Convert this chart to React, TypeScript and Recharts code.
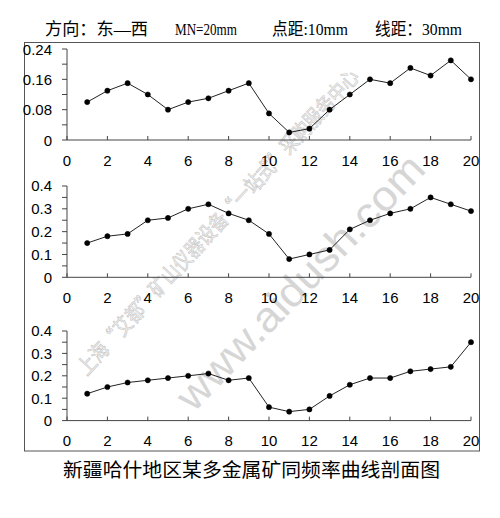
import React from 'react';
import { LineChart, Line, XAxis, YAxis } from 'recharts';

const positions = [1, 2, 3, 4, 5, 6, 7, 8, 9, 10, 11, 12, 13, 14, 15, 16, 17, 18, 19, 20];
const series1 = [0.10, 0.13, 0.15, 0.12, 0.08, 0.10, 0.11, 0.13, 0.15, 0.07, 0.02, 0.03, 0.08, 0.12, 0.16, 0.15, 0.19, 0.17, 0.21, 0.16];
const series2 = [0.15, 0.18, 0.19, 0.25, 0.26, 0.30, 0.32, 0.28, 0.25, 0.19, 0.08, 0.10, 0.12, 0.21, 0.25, 0.28, 0.30, 0.35, 0.32, 0.29];
const series3 = [0.12, 0.15, 0.17, 0.18, 0.19, 0.20, 0.21, 0.18, 0.19, 0.06, 0.04, 0.05, 0.11, 0.16, 0.19, 0.19, 0.22, 0.23, 0.24, 0.35];

const xTicks = [0, 2, 4, 6, 8, 10, 12, 14, 16, 18, 20];
const yTicks1 = [0, 0.04, 0.08, 0.12, 0.16, 0.2, 0.24];
const yLabels1 = ['0', '', '0.08', '', '0.16', '', '0.24'];
const yTicks2 = [0, 0.05, 0.1, 0.15, 0.2, 0.25, 0.3, 0.35, 0.4];
const yLabels2 = ['0', '', '0.1', '', '0.2', '', '0.3', '', '0.4'];

const titleParts = ['方向：东—西', 'MN=20mm', '点距:10mm', '线距：30mm'];
const caption = '新疆哈什地区某多金属矿同频率曲线剖面图';
const watermarkCn = '上海“艾都”矿山仪器设备“一站式”采购服务中心';
const watermarkUrl = 'www.aidush.com';

const AXIS = '#444';
const FONT = "'Liberation Sans', Arial, sans-serif";

const XTick = (props: any) => {
  const { x, y, payload } = props;
  return (
    <g>
      <line x1={x} y1={y} x2={x} y2={y - 4} stroke={AXIS} strokeWidth={1} />
      <text x={x} y={y + 20} textAnchor="middle" dominantBaseline="central" fontSize={15} fontFamily={FONT} fill="#000">
        {payload.value}
      </text>
    </g>
  );
};

const makeYTick = (ticks: number[], labels: string[]) => (props: any) => {
  const { x, y, payload } = props;
  const idx = ticks.findIndex((t) => Math.abs(t - payload.value) < 1e-9);
  const label = idx >= 0 ? labels[idx] : '';
  return (
    <text x={x} y={y} textAnchor="end" dominantBaseline="central" fontSize={15} fontFamily={FONT} fill="#000">
      {label}
    </text>
  );
};

type PanelProps = {
  values: number[];
  yTicks: number[];
  yLabels: string[];
  top: number;
  plotHeight: number;
};

const Panel = ({ values, yTicks, yLabels, top, plotHeight }: PanelProps) => {
  const data = positions.map((p, i) => ({ x: p, v: values[i] }));
  const marginTop = 10;
  const xAxisH = 30;
  const yMax = yTicks[yTicks.length - 1];
  return (
    <div style={{ position: 'absolute', left: 0, top: top - marginTop }}>
      <LineChart width={500} height={marginTop + plotHeight + xAxisH} data={data} margin={{ top: marginTop, right: 29, bottom: 0, left: 0 }}>
        <XAxis
          dataKey="x"
          type="number"
          domain={[0, 20]}
          ticks={xTicks}
          interval={0}
          height={xAxisH}
          axisLine={{ stroke: AXIS, strokeWidth: 1 }}
          tickLine={false}
          tickSize={0}
          tickMargin={0}
          tick={<XTick />}
        />
        <YAxis
          type="number"
          domain={[0, yMax]}
          ticks={yTicks}
          interval={0}
          width={67}
          axisLine={{ stroke: AXIS, strokeWidth: 1 }}
          tickLine={{ stroke: AXIS, strokeWidth: 1 }}
          tickSize={5}
          tickMargin={10}
          tick={makeYTick(yTicks, yLabels)}
        />
        <Line
          dataKey="v"
          type="linear"
          stroke="#222"
          strokeWidth={1}
          dot={{ r: 2.6, fill: '#000', stroke: '#000', strokeWidth: 0.5 }}
          isAnimationActive={false}
        />
      </LineChart>
    </div>
  );
};

export default function App() {
  return (
    <div style={{ position: 'absolute', left: 0, top: 0, width: 500, height: 518, background: '#fff', overflow: 'hidden' }}>
      <svg width={500} height={518} style={{ position: 'absolute', left: 0, top: 0 }}>
        <text
          x={0}
          y={0}
          transform="translate(217,221) rotate(-47.5)"
          textAnchor="middle"
          dominantBaseline="central"
          fontSize={21}
          fontFamily="'Noto Sans CJK SC', sans-serif"
          fill="#f4f4f4"
          stroke="#c4c4c4"
          strokeWidth={0.6}
          textLength={405}
          lengthAdjust="spacingAndGlyphs"
        >
          {watermarkCn}
        </text>
        <text
          x={0}
          y={0}
          transform="translate(300,282) rotate(-46)"
          textAnchor="middle"
          dominantBaseline="central"
          fontSize={42}
          fontFamily={FONT}
          fill="#d6d6d6"
          textLength={337}
          lengthAdjust="spacingAndGlyphs"
        >
          {watermarkUrl}
        </text>
        <rect x={24.5} y={42.5} width={455} height={408.5} fill="none" stroke="#555" strokeWidth={1} />
        {[
          [45, 103],
          [175, 62],
          [272, 76],
          [375, 87],
        ].map(([x, w], i) => (
          <text
            key={i}
            x={x}
            y={35}
            fontSize={17}
            fontFamily="'Liberation Serif', 'Noto Sans CJK SC', serif"
            fill="#000"
            textLength={w}
            lengthAdjust="spacingAndGlyphs"
          >
            {titleParts[i]}
          </text>
        ))}
        <text
          x={63}
          y={477}
          fontSize={19}
          fontFamily="'Noto Sans CJK SC', sans-serif"
          fill="#000"
          textLength={377}
          lengthAdjust="spacingAndGlyphs"
        >
          {caption}
        </text>
      </svg>
      <Panel values={series1} yTicks={yTicks1} yLabels={yLabels1} top={49.3} plotHeight={91} />
      <Panel values={series2} yTicks={yTicks2} yLabels={yLabels2} top={186} plotHeight={91.3} />
      <Panel values={series3} yTicks={yTicks2} yLabels={yLabels2} top={330.7} plotHeight={89.6} />
    </div>
  );
}
